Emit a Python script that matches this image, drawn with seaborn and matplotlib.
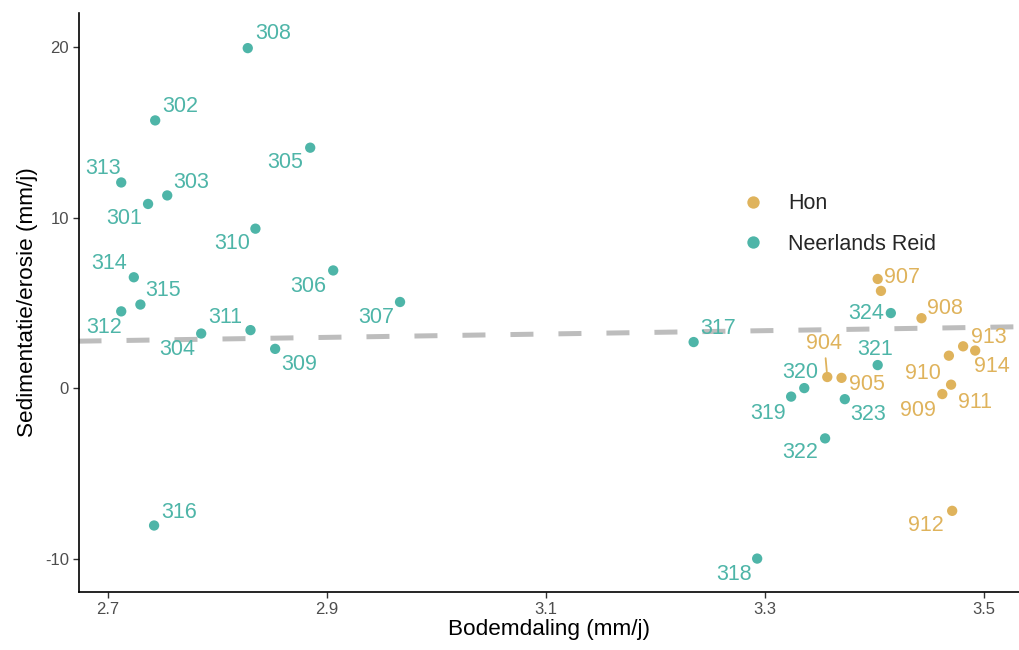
import pandas as pd
import matplotlib
matplotlib.use("Agg")
import matplotlib.pyplot as plt
import seaborn as sns

# Gegevens
ids_reid = ["301", "302", "303", "304", "305", "306", "307", "308", "309", "310",
            "311", "312", "313", "314", "315", "316", "317", "318", "319", "320",
            "321", "322", "323", "324"]
x_reid = [2.737, 2.7435, 2.7545, 2.7855, 2.885, 2.906, 2.967, 2.828, 2.853, 2.835,
          2.8305, 2.7125, 2.7125, 2.724, 2.730, 2.7425, 3.235, 3.293, 3.324, 3.336,
          3.403, 3.355, 3.373, 3.415]
y_reid = [10.8, 15.7, 11.3, 3.2, 14.1, 6.9, 5.05, 19.94, 2.3, 9.35,
          3.4, 4.5, 12.06, 6.5, 4.9, -8.06, 2.7, -10.0, -0.5, 0.0,
          1.35, -2.95, -0.65, 4.4]

ids_hon = ["904", "905", "906", "907", "908", "909", "910", "911", "912", "913", "914"]
x_hon = [3.357, 3.370, 3.406, 3.403, 3.443, 3.462, 3.468, 3.470, 3.471, 3.481, 3.492]
y_hon = [0.65, 0.6, 5.7, 6.4, 4.1, -0.35, 1.9, 0.2, -7.2, 2.45, 2.2]

# trendlijn (gestreept)
trend_x = [2.6735, 3.532]
trend_y = [2.752, 3.596]

groups = ["Hon", "Neerlands Reid"]
colors = {"Hon": "#dfb35c", "Neerlands Reid": "#4eb5a8"}

df = pd.concat([
    pd.DataFrame({"id": ids_hon, "x": x_hon, "y": y_hon, "groep": "Hon"}),
    pd.DataFrame({"id": ids_reid, "x": x_reid, "y": y_reid, "groep": "Neerlands Reid"}),
], ignore_index=True)

# label-verschuiving in pixels (dx, dy naar beneden)
offsets = {
    "308": (25, -15), "302": (25, -14), "313": (-18, -14), "303": (24, -13),
    "301": (-24, 15), "305": (-25, 15), "310": (-23, 15), "314": (-25, -14),
    "315": (23, -14), "312": (-17, 16), "304": (-24, 16), "311": (-25, -13),
    "309": (24, 16), "306": (-25, 16), "307": (-24, 16), "317": (24, -14),
    "316": (25, -13), "318": (-23, 16), "907": (24, -1), "324": (-25, 0),
    "908": (23, -10), "913": (26, -9), "914": (17, 16), "910": (-26, 18),
    "911": (24, 18), "909": (-24, 16), "321": (-3, -16), "904": (-3, -34),
    "905": (25, 7), "320": (-4, -16), "319": (-23, 17), "323": (23, 15),
    "322": (-25, 14), "912": (-26, 15),
}

sns.set_theme(style="white")
plt.rcParams["font.family"] = ["Liberation Sans", "DejaVu Sans"]

fig = plt.figure(figsize=(10.19, 6.5), dpi=100)
ax = fig.add_axes([78.5 / 1019, 58 / 650, (1019 - 78.5) / 1019, (592 - 13) / 650])

ax.plot(trend_x, trend_y, color="#bdbdbd", lw=3.6, dashes=(4.6, 5.0),
        dash_capstyle="butt", zorder=1)

sns.scatterplot(data=df, x="x", y="y", hue="groep", hue_order=groups,
                palette=colors, s=55, linewidth=0, ax=ax, zorder=3)

for _, r in df.iterrows():
    if r["id"] not in offsets:
        continue
    dx, dy = offsets[r["id"]]
    lead = None
    if r["id"] == "904":
        lead = dict(arrowstyle="-", color=colors[r["groep"]], lw=1.3,
                    shrinkA=1, shrinkB=4)
    ax.annotate(r["id"], (r["x"], r["y"]), xytext=(dx, -dy),
                textcoords="offset pixels", ha="center", va="center",
                fontsize=15.5, color=colors[r["groep"]], arrowprops=lead, zorder=4)

ax.set_xlim(2.6735, 3.532)
ax.set_ylim(-11.96, 22.0)
ax.set_xticks([2.7, 2.9, 3.1, 3.3, 3.5])
ax.set_xticklabels(["2.7", "2.9", "3.1", "3.3", "3.5"])
ax.set_yticks([-10, 0, 10, 20])
ax.set_yticklabels(["-10", "0", "10", "20"])
ax.tick_params(axis="both", which="major", length=4, width=1, color="#333333",
               labelsize=12, labelcolor="#4d4d4d", bottom=True, left=True, pad=3)
for side in ["top", "right"]:
    ax.spines[side].set_visible(False)
for side in ["left", "bottom"]:
    ax.spines[side].set_color("black")
    ax.spines[side].set_linewidth(1.2)

ax.set_xlabel("Bodemdaling (mm/j)", fontsize=16.2, color="black", labelpad=2)
ax.set_ylabel("Sedimentatie/erosie (mm/j)", fontsize=16.2, color="black", labelpad=5)

leg = ax.legend(loc="upper left", bbox_to_anchor=(648 / 940.5, (592 - 177) / 579),
                frameon=True, facecolor="white", edgecolor="white", framealpha=1,
                fontsize=15.5, markerscale=1.2, handlelength=1.0, handletextpad=1.1,
                labelspacing=0.9, borderpad=0.25, title=None)
leg.set_zorder(5)

fig.savefig("out.png", dpi=100, facecolor="white")
